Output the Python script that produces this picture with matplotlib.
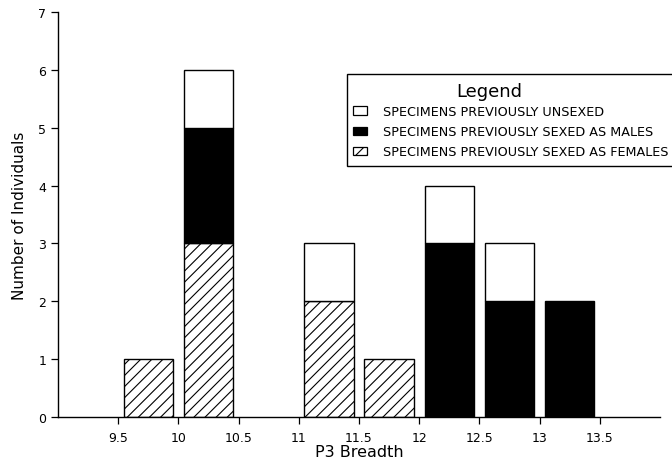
import matplotlib
matplotlib.use("Agg")
import matplotlib.pyplot as plt
import numpy as np
from matplotlib.patches import Patch, Rectangle

plt.rcParams['font.family'] = ['DejaVu Sans']
plt.rcParams['hatch.linewidth'] = 0.8

# Bin centres of P3 breadth (mm) and counts per group
bin_centers = [9.75, 10.25, 11.25, 11.75, 12.25, 12.75, 13.25]
females = [1, 3, 2, 1, 0, 0, 0]
males = [0, 2, 0, 0, 3, 2, 2]
unsexed = [0, 1, 1, 0, 1, 1, 0]

xticks = [9.5, 10, 10.5, 11, 11.5, 12, 12.5, 13, 13.5]
xtick_labels = ['9.5', '10', '10.5', '11', '11.5', '12', '12.5', '13', '13.5']
yticks = [0, 1, 2, 3, 4, 5, 6, 7]

legend_labels = ['SPECIMENS PREVIOUSLY UNSEXED',
                 'SPECIMENS PREVIOUSLY SEXED AS MALES',
                 'SPECIMENS PREVIOUSLY SEXED AS FEMALES']

fig = plt.figure(figsize=(6.72, 4.64), dpi=100)
ax = fig.add_axes([58 / 672, 46 / 464, 602 / 672, 405 / 464])

x = np.array(bin_centers)
f = np.array(females)
m = np.array(males)
u = np.array(unsexed)
w = 0.41

def draw(vals, bottom, **kw):
    keep = vals > 0
    ax.bar(x[keep], vals[keep], width=w, bottom=bottom[keep],
           edgecolor='black', linewidth=1.0, **kw)

draw(f, np.zeros_like(f), color='white', hatch='///')
draw(m, f, color='black')
draw(u, f + m, color='white')

ax.set_xlim(9, 14)
ax.set_ylim(0, 7)
ax.set_xticks(xticks)
ax.set_xticklabels(xtick_labels)
ax.set_yticks(yticks)
ax.tick_params(axis='both', direction='out', length=5, width=0.9,
               labelsize=9, colors='black')
ax.tick_params(axis='x', pad=5)
for side in ['top', 'right']:
    ax.spines[side].set_visible(False)
for side in ['left', 'bottom']:
    ax.spines[side].set_linewidth(1.0)

ax.set_xlabel('P3 Breadth', fontsize=11.5, labelpad=0)
ax.set_ylabel('Number of Individuals', fontsize=11, labelpad=8)

# Legend: a framed box running off the right edge, a heading, and
# three swatch rows
fig.patches.append(Rectangle((347 / 672, 1 - 167 / 464), 343 / 672, 92 / 464,
                             transform=fig.transFigure, facecolor='white',
                             edgecolor='black', linewidth=1.0, zorder=4))
fig.text(489 / 672, 1 - 92 / 464, 'Legend', fontsize=13,
         ha='center', va='center', zorder=10)

handles = [Patch(facecolor='white', edgecolor='black', linewidth=0.9),
           Patch(facecolor='black', edgecolor='black', linewidth=0.9),
           Patch(facecolor='white', edgecolor='black', hatch='///', linewidth=0.9)]
leg = fig.legend(handles, legend_labels,
                 loc='upper left', bbox_to_anchor=(353 / 672, 1 - 106 / 464),
                 bbox_transform=fig.transFigure,
                 fontsize=9.2, frameon=False, borderpad=0,
                 handlelength=1.1, handleheight=0.6, handletextpad=1.25,
                 labelspacing=0.56, borderaxespad=0)
leg.set_zorder(6)

fig.savefig('out.png', dpi=100)
